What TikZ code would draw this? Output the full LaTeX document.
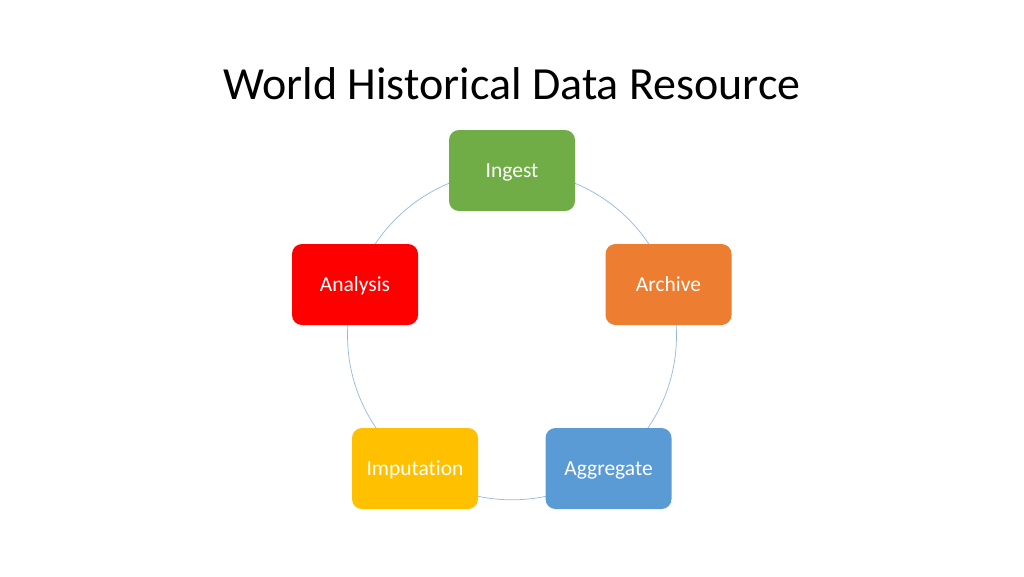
\documentclass[tikz,border=0pt]{standalone}
\usepackage{fontspec}
\setmainfont{Carlito}[Ligatures=NoCommon]
\definecolor{ingestgreen}{RGB}{112,173,71}
\definecolor{archiveorange}{RGB}{237,125,49}
\definecolor{analysisred}{RGB}{255,0,0}
\definecolor{imputationgold}{RGB}{255,192,0}
\definecolor{aggregateblue}{RGB}{91,155,213}
\definecolor{ringblue}{RGB}{150,185,220}
\begin{document}
\begin{tikzpicture}[x=1pt,y=-1pt,
  stage/.style={draw=none, rounded corners=10pt, minimum width=126pt, minimum height=81pt,
    text=white, font=\fontsize{21.5}{26}\selectfont, inner sep=0pt,
    text height=16pt, text depth=2.4pt},
  ring/.style={draw=ringblue, line width=0.7pt}]
\useasboundingbox (0,0) rectangle (1024,576);
\fill[white] (0,0) rectangle (1024,576);
\node[anchor=base, font=\fontsize{46}{52}\selectfont] (title) at (512,99) {World Historical Data Resource};
\coordinate (c) at (512,335.3);
\draw[ring] (c) circle[radius=164.5pt];
\node[stage, fill=ingestgreen] (ingest) at (512,170.5) {Ingest};
\node[stage, fill=archiveorange] (archive) at (668.5,284.5) {Archive};
\node[stage, fill=aggregateblue] (aggregate) at (608.5,468.5) {Aggregate};
\node[stage, fill=imputationgold] (imputation) at (415,468.5) {Imputation};
\node[stage, fill=analysisred] (analysis) at (355,284.5) {Analysis};
\end{tikzpicture}
\end{document}
